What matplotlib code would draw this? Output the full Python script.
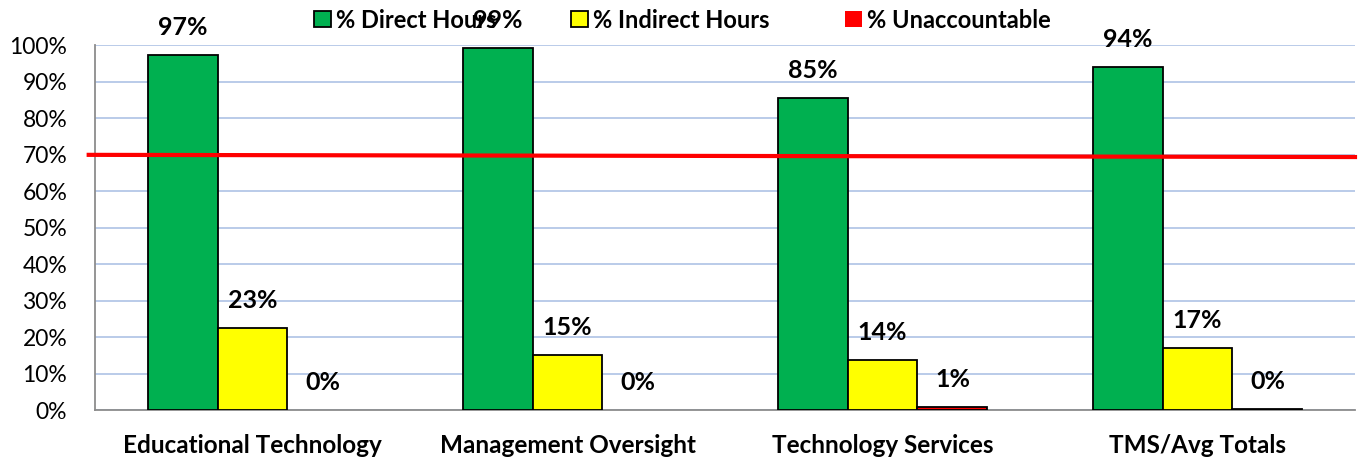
import matplotlib
matplotlib.use("Agg")
import matplotlib.pyplot as plt
import numpy as np

categories = ["Educational Technology", "Management Oversight", "Technology Services", "TMS/Avg Totals"]
direct = [97.4, 99.3, 85.6, 94.1]
indirect = [22.5, 15.1, 13.7, 17.0]
unaccountable = [0.0, 0.0, 0.7, 0.3]
direct_labels = ["97%", "99%", "85%", "94%"]
indirect_labels = ["23%", "15%", "14%", "17%"]
unacc_labels = ["0%", "0%", "1%", "0%"]
series_names = ["% Direct Hours", "% Indirect Hours", "% Unaccountable"]
target_line = [70.0, 69.4]

plt.rcParams['font.family'] = ['Lato', 'DejaVu Sans']

fig = plt.figure(figsize=(13.6, 4.61), dpi=100)
ax = fig.add_axes([95/1360, 1-410/461, 1260/1360, (410-45.5)/461])

x = np.arange(len(categories))
w = 0.222
colors = ["#00B050", "#FFFF00", "#FF0000"]
series = [direct, indirect, unaccountable]
labels = [direct_labels, indirect_labels, unacc_labels]
offsets = [-w, 0, w]
bars = []
for vals, c, off, name in zip(series, colors, offsets, series_names):
    lws = [1.3 if v > 0 else 0 for v in vals]
    b = ax.bar(x + off, vals, width=w, color=c, edgecolor="black", linewidth=lws, label=name, zorder=3)
    bars.append(b)

for vals, labs, off in zip(series, labels, offsets):
    for xi, v, lab in zip(x, vals, labs):
        ax.annotate(lab, (xi + off, v), xytext=(0, 20), textcoords="offset points",
                    ha="center", va="center", fontsize=18, fontweight="bold", zorder=10,
                    annotation_clip=False)

ax.set_xlim(-0.5, 3.5)
ax.set_ylim(0, 100)
ax.set_yticks(np.arange(0, 101, 10))
ax.set_yticklabels([f"{v}%" for v in range(0, 101, 10)], fontsize=16.5)
ax.set_xticks(x)
ax.set_xticklabels(categories, fontsize=17.5, fontweight="bold")
ax.tick_params(axis="y", length=0, pad=20)
ax.tick_params(axis="x", length=0, pad=17)
ax.grid(axis="y", color="#B4C7E7", linewidth=1.3, zorder=0)
ax.set_axisbelow(True)
for s in ["top", "right"]:
    ax.spines[s].set_visible(False)
for s in ["left", "bottom"]:
    ax.spines[s].set_color("#8C8C8C")
    ax.spines[s].set_linewidth(1.3)

ax.plot([-0.52, 3.5], target_line, color="#FF0000", linewidth=3, zorder=6, clip_on=False)

legend_x = [314, 571, 845]
for b, name, lx in zip(bars, series_names, legend_x):
    leg = fig.legend(handles=[b], labels=[name], loc="center left", bbox_to_anchor=(lx/1360, 1-20/461),
                     frameon=False, prop={"weight": "bold", "size": 17}, borderpad=0, borderaxespad=0,
                     handlelength=0.7, handleheight=0.7, handletextpad=0.25)
    leg.set_zorder(5)

fig.savefig("out.png", dpi=100)
